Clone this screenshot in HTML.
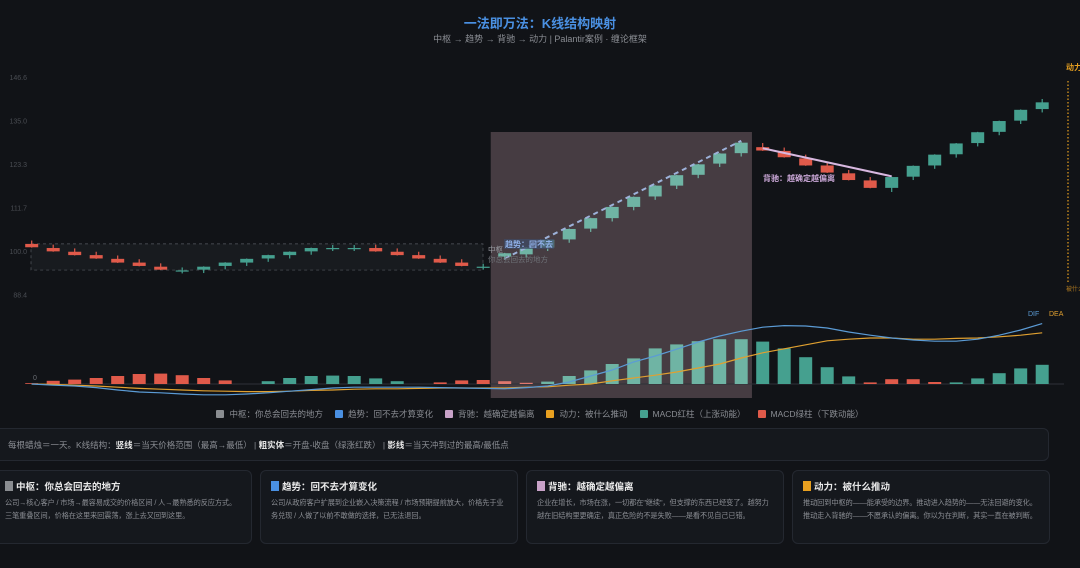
<!DOCTYPE html>
<html><head><meta charset="utf-8"><style>
html,body{margin:0;padding:0;background:#111317;width:1080px;height:568px;overflow:hidden;font-family:"Liberation Sans","Noto Sans CJK SC",sans-serif;}
#wrap{position:relative;width:1080px;height:568px;}
.title{position:absolute;top:13px;left:0;width:1080px;text-align:center;color:#4a90e2;font-weight:bold;font-size:13px;}
.sub{position:absolute;top:32px;left:0;width:1080px;text-align:center;color:#8a8d93;font-size:9px;}
.legend{position:absolute;top:408px;left:0;width:1080px;display:flex;justify-content:center;gap:0;font-size:8.5px;color:#8a8d93;}
.li{display:flex;align-items:center;margin:0 6px;}
.sw{width:8px;height:8px;border-radius:1px;margin-right:5px;}
.info{position:absolute;left:-6px;top:428px;width:1055px;height:33px;background:#15181d;border:1px solid #242830;border-radius:6px;box-sizing:border-box;font-size:8.5px;color:#8a8d93;line-height:33px;padding-left:13px;}
.info b{color:#e6e6e6;}
.card{position:absolute;top:470px;width:258px;height:74px;background:#15181d;border:1px solid #242830;border-radius:6px;box-sizing:border-box;padding:8px 10px;}
.ct{font-size:9.5px;font-weight:bold;color:#eaeaea;display:flex;align-items:center;margin-bottom:3px;}
.cs{width:8px;height:10px;margin-right:3px;}
.cb{font-size:7.2px;color:#8a8d93;line-height:13px;letter-spacing:-0.1px;}
</style></head><body><div id="wrap">
<div class="title">一法即万法：K线结构映射</div>
<div class="sub">中枢 → 趋势 → 背驰 → 动力 | Palantir案例 · 缠论框架</div>
<svg id="chart" width="1080" height="405" style="position:absolute;left:0;top:0"></svg>
<div class="legend">
<div class="li"><div class="sw" style="background:#8a8d91"></div>中枢：你总会回去的地方</div>
<div class="li"><div class="sw" style="background:#4a90e2"></div>趋势：回不去才算变化</div>
<div class="li"><div class="sw" style="background:#c8a2c8"></div>背驰：越确定越偏离</div>
<div class="li"><div class="sw" style="background:#e8a020"></div>动力：被什么推动</div>
<div class="li"><div class="sw" style="background:#45a08f"></div>MACD红柱（上涨动能）</div>
<div class="li"><div class="sw" style="background:#e05a4a"></div>MACD绿柱（下跌动能）</div>
</div>
<div class="info">每根蜡烛＝一天。K线结构：<b>竖线</b>＝当天价格范围（最高→最低） | <b>粗实体</b>＝开盘-收盘（绿涨红跌） | <b>影线</b>＝当天冲到过的最高/最低点</div>
<div class="card" style="left:-6px"><div class="ct"><div class="cs" style="background:#8a8d91"></div>中枢：你总会回去的地方</div><div class="cb">公司→核心客户 / 市场→最容易成交的价格区间 / 人→最熟悉的反应方式。三笔重叠区间，价格在这里来回震荡，涨上去又回到这里。</div></div>
<div class="card" style="left:260px"><div class="ct"><div class="cs" style="background:#4a90e2"></div>趋势：回不去才算变化</div><div class="cb">公司从政府客户扩展到企业嵌入决策流程 / 市场预期提前放大，价格先于业务兑现 / 人做了以前不敢做的选择，已无法退回。</div></div>
<div class="card" style="left:526px"><div class="ct"><div class="cs" style="background:#c8a2c8"></div>背驰：越确定越偏离</div><div class="cb">企业在增长，市场在涨，一切都在"继续"，但支撑的东西已经变了。越努力越在旧结构里更确定，真正危险的不是失败——是看不见自己已错。</div></div>
<div class="card" style="left:792px"><div class="ct"><div class="cs" style="background:#e8a020"></div>动力：被什么推动</div><div class="cb">推动回到中枢的——能承受的边界。推动进入趋势的——无法回避的变化。推动走入背驰的——不愿承认的偏离。你以为在判断，其实一直在被判断。</div></div>
</div>
<script>
const opens=[101.9,100.8,99.8,98.9,97.9,96.9,95.8,94.8,95.0,96.0,96.9,98.0,98.9,99.9,100.8,100.8,100.8,99.8,98.9,97.9,96.9,95.8,98.5,99.1,100.9,103.1,106.0,108.8,111.8,114.6,117.5,120.4,123.4,126.2,127.8,126.8,124.8,122.9,120.8,118.9,116.9,119.9,122.9,125.9,128.9,131.9,134.9,138.0];
const closes=[101.0,99.9,98.9,98.0,96.9,96.0,95.0,94.8,95.8,96.9,97.9,98.9,99.8,100.8,100.8,100.8,99.9,98.9,98.0,96.9,96.0,95.8,99.4,100.9,103.0,105.9,108.8,111.8,114.5,117.5,120.3,123.2,126.1,129.0,126.9,125.1,122.9,121.0,119.0,116.9,119.8,122.8,125.8,128.8,131.8,134.8,137.8,139.8];
const highs=[102.8,101.7,100.7,99.8,98.8,97.8,96.7,95.6,95.9,97.0,98.0,99.0,99.9,100.9,101.6,101.6,101.7,100.7,99.8,98.8,97.8,96.6,99.5,101.0,103.1,106.0,108.9,111.9,114.6,117.6,120.4,123.3,126.2,129.3,128.9,127.7,125.8,123.8,121.7,119.8,119.9,122.9,125.9,128.9,131.9,134.9,137.9,140.7];
const lows=[100.9,99.8,98.8,97.9,96.8,95.9,94.9,94.0,94.1,95.1,96.0,97.1,98.0,99.0,100.0,100.0,99.8,98.8,97.9,96.8,95.9,95.0,97.6,98.2,100.0,102.2,105.1,107.9,110.9,113.7,116.6,119.5,122.5,125.3,126.8,125.0,122.8,120.9,118.9,116.8,115.8,119.0,122.0,125.0,128.0,131.0,134.0,137.1];
const macdHist=[-0.02,-0.08,-0.11,-0.15,-0.2,-0.25,-0.26,-0.22,-0.15,-0.09,0,0.07,0.15,0.2,0.21,0.2,0.14,0.07,0,-0.04,-0.09,-0.1,-0.07,-0.03,0.06,0.2,0.34,0.5,0.64,0.89,0.99,1.07,1.12,1.12,1.06,0.89,0.67,0.42,0.19,-0.04,-0.12,-0.12,-0.05,0.04,0.14,0.27,0.39,0.48];
const difVals=[0,-0.03,-0.05,-0.09,-0.15,-0.2,-0.22,-0.25,-0.27,-0.27,-0.25,-0.22,-0.18,-0.14,-0.1,-0.08,-0.08,-0.08,-0.08,-0.09,-0.1,-0.11,-0.12,-0.09,-0.05,0.05,0.2,0.35,0.55,0.7,0.87,1.05,1.2,1.32,1.42,1.46,1.45,1.4,1.3,1.22,1.15,1.1,1.07,1.07,1.12,1.22,1.35,1.51];
const deaVals=[0,-0.01,-0.03,-0.05,-0.08,-0.11,-0.13,-0.15,-0.17,-0.18,-0.19,-0.19,-0.18,-0.16,-0.15,-0.13,-0.12,-0.12,-0.11,-0.1,-0.1,-0.1,-0.1,-0.08,-0.07,-0.03,0,0.08,0.15,0.22,0.3,0.4,0.5,0.65,0.78,0.88,0.98,1.08,1.12,1.15,1.15,1.12,1.12,1.14,1.15,1.18,1.22,1.28];
const yTicks=[146.6,135.0,123.3,111.7,100.0,88.4];
const NS='http://www.w3.org/2000/svg';
const svg=document.getElementById('chart');
const X=i=>31.7+21.5*i;
const Y=v=>251-(v-100)*3.735;
const MY=v=>384-v*40;
function mk(t,a,p){const e=document.createElementNS(NS,t);for(const k in a)e.setAttribute(k,a[k]);(p||svg).appendChild(e);return e;}
let r=mk('rect',{x:X(21.35),y:132,width:X(33.5)-X(21.35),height:266,fill:'#463c42'});


yTicks.forEach(v=>{const t=mk('text',{x:27,y:Y(v)+3,fill:'#4a4d53','font-size':7,'text-anchor':'end'});t.textContent=v.toFixed(1);

});
let zb=mk('rect',{x:31,y:Y(101.9),width:452,height:Y(94.9)-Y(101.9),fill:'#1a1e22','fill-opacity':0.8,stroke:'#555a60','stroke-dasharray':'3,3','stroke-width':0.7});


for(let i=0;i<opens.length;i++){
 const o=opens[i],c=closes[i],up=c>=o,inR=i>=22&&i<=33;
 const col=up?(inR?'#6fb4a4':'#45a08f'):'#e05a4a';
 const g=mk('g',{});
 
 
 mk('line',{x1:X(i),x2:X(i),y1:Y(highs[i]),y2:Y(lows[i]),stroke:col,'stroke-width':1.2},g);
 const h=Math.max(Math.abs(Y(o)-Y(c)),1.2);
 mk('rect',{x:X(i)-6.5,y:Math.min(Y(o),Y(c)),width:13,height:h,fill:col},g);
}
let tl=mk('line',{x1:X(22),y1:Y(98),x2:X(33),y2:Y(129.5),stroke:'#9db2da','stroke-width':2,'stroke-dasharray':'5,4'});


let dl=mk('line',{x1:X(34),y1:Y(127.5),x2:X(40),y2:Y(120),stroke:'#d8b8e0','stroke-width':2});


function txt(x,y,s,fill,fs,bold,name){const t=mk('text',{x:x,y:y,fill:fill,'font-size':fs,'font-weight':bold?'bold':'normal'});t.textContent=s;

return t;}
txt(763,181,'背驰：越确定越偏离','#c9a6d6',8,true,'divergence-label');
let lb=mk('rect',{x:504,y:239,width:50,height:10,fill:'#3d4a66','fill-opacity':0.7});
txt(505,247,'趋势：回不去','#8fb0e8',8,true,'trend-label');
txt(488,252,'中枢','#9a9da3',7.5,false,'zhongshu-label');
txt(488,262,'你总会回去的地方','#6f7278',7.5,false,'zhongshu-sublabel');
txt(1066,70,'动力','#e8a020',8,true,'momentum-label');
let ml=mk('line',{x1:1068,x2:1068,y1:81,y2:283,stroke:'#e8a020','stroke-width':1.2,'stroke-dasharray':'1.5,2'});


txt(1066,291,'被什么','#b07a20',6,false,'momentum-sublabel');
let zl=mk('line',{x1:31,x2:1064,y1:384,y2:384,stroke:'#2e3238','stroke-width':1});


txt(33,380,'0','#6a6d73',7,false,'macd-zero-label');
// histogram drawn upward by magnitude, colored by sign
macdHist.forEach((v,i)=>{const inR=i>=22&&i<=33;const col=v>=0?(inR?'#6fb4a4':'#45a08f'):(inR?'#e0786e':'#e05a4a');
 const hh=384-MY(Math.abs(v));
 const b=mk('rect',{x:X(i)-6.5,y:384-hh,width:13,height:hh,fill:col});
 
 });
function line(vals,col,name){const d=vals.map((v,i)=>(i?'L':'M')+X(i).toFixed(1)+','+MY(v).toFixed(1)).join('');
 const p=mk('path',{d:d,fill:'none',stroke:col,'stroke-width':1.2});
 
 }
line(deaVals,'#e0a030','dea-line');
line(difVals,'#5b9bd5','dif-line');
txt(1028,316,'DIF','#5b9bd5',7,false,'dif-label');
txt(1049,316,'DEA','#e0a030',7,false,'dea-label');
</script>
</body></html>
